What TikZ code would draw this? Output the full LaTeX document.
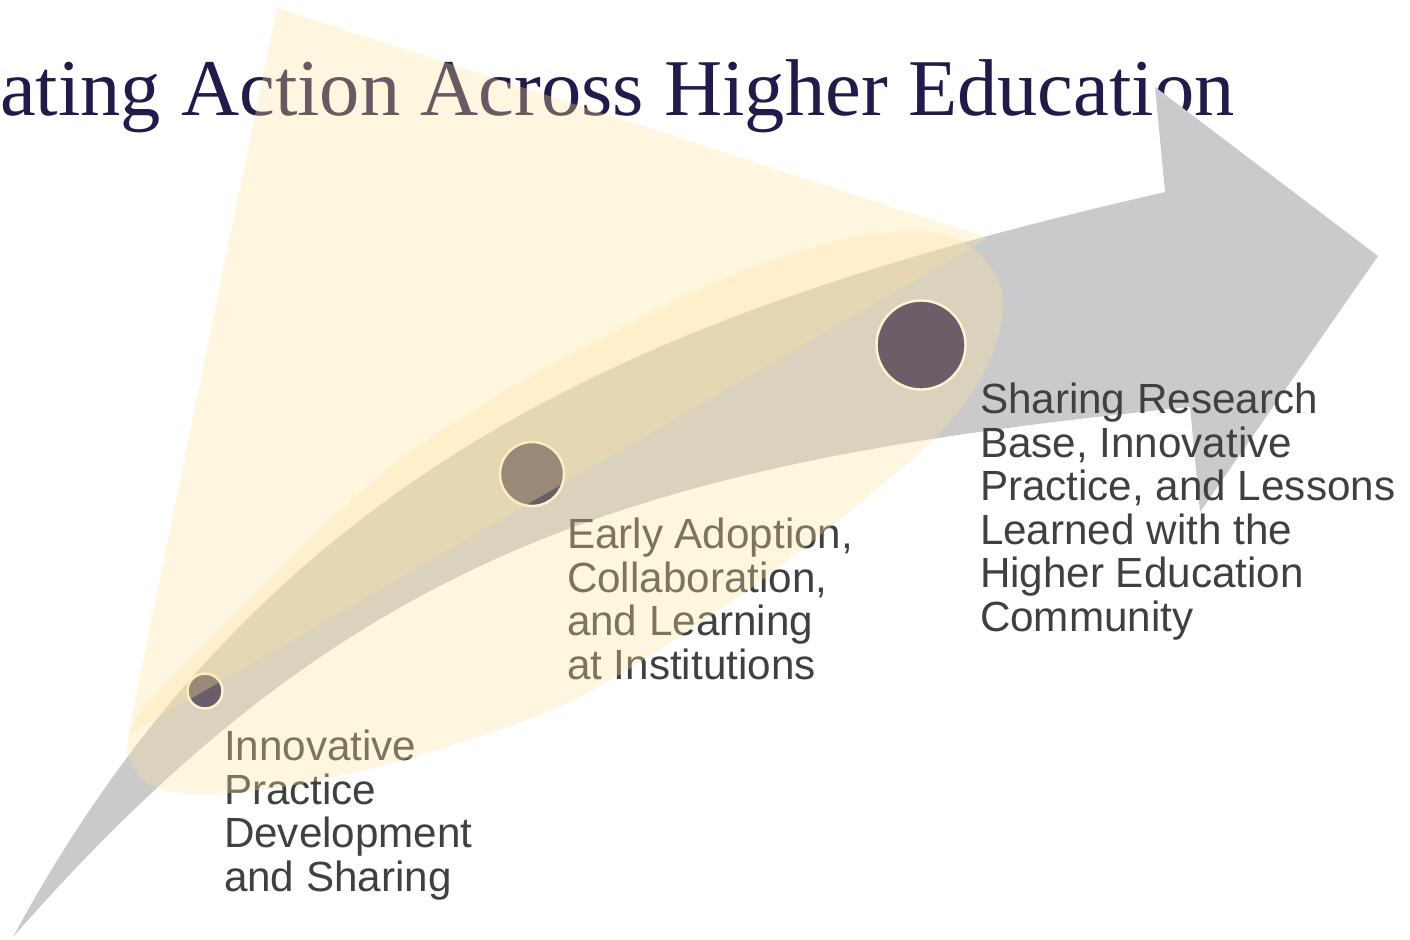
\documentclass[tikz,border=0pt]{standalone}
\usepackage{fontspec}
\setmainfont{Liberation Serif}
\newfontfamily\stagefont{Liberation Sans}
\definecolor{navy}{RGB}{33,26,74}
\definecolor{cream}{RGB}{255,227,158}
\definecolor{arrowgray}{RGB}{202,202,204}
\definecolor{dotpurple}{RGB}{107,94,104}
\definecolor{ring}{RGB}{255,242,208}
\definecolor{textgray}{RGB}{64,64,64}
\begin{document}
\begin{tikzpicture}[x=0.01cm,y=-0.01cm]
\tikzstyle{every node}=[inner sep=0pt, outer sep=0pt]
\tikzstyle{stage}=[anchor=base west, align=left, text=textgray, font=\stagefont\fontsize{12}{12.35}\selectfont]
\tikzstyle{marker}=[circle, draw=ring, line width=0.7pt, fill=dotpurple]
\tikzstyle{glow}=[fill=cream, fill opacity=0.32]
\useasboundingbox (0,0) rectangle (1410,939);
\node (t) [anchor=base west, text=navy, font=\fontsize{22.9}{27}\selectfont] at (0,115) {ating Action Across Higher Education};
\fill[arrowgray] (13,937) .. controls (273,456) and (665,307) .. (1165,192) -- (1155,87) -- (1378,256) -- (1200,512) -- (1190,407) .. controls (640,462) and (353,549) .. (13,937) -- cycle;
\node (s1) [stage] at (224,891) {Innovative\\Practice\\Development\\and Sharing};
\node (s2) [stage] at (567,679) {Early Adoption,\\Collaboration,\\and Learning\\at Institutions};
\node (s3) [stage] at (980,631) {Sharing Research\\Base, Innovative\\Practice, and Lessons\\Learned with the\\Higher Education\\Community};
\fill[glow] plot[smooth cycle, tension=0.55] coordinates {(128,755) (133,725) (160,690) (250,600) (330,520) (420,445) (560,360) (720,280) (850,238) (930,232) (975,250) (1000,285) (1002,320) (990,360) (967,400) (933,440) (878,488) (795,555) (712,615) (570,702) (420,755) (300,784) (205,794) (150,785)};
\node (d1) [marker, minimum size=0.35cm] at (205,691) {};
\node (d2) [marker, minimum size=0.64cm] at (532,474) {};
\node (d3) [marker, minimum size=0.89cm] at (921,345) {};
\fill[glow] (277,8) -- (988,238) -- (128,735) -- cycle;
\end{tikzpicture}
\end{document}
